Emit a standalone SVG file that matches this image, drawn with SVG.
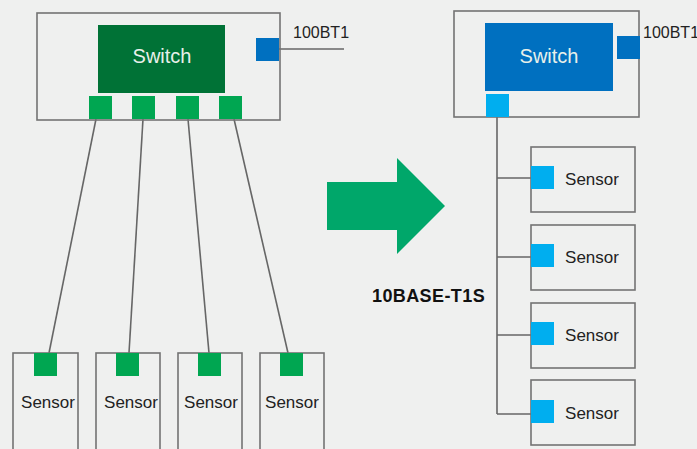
<svg xmlns="http://www.w3.org/2000/svg" width="697" height="449" viewBox="0 0 697 449">
<style>
.box{fill:none;stroke:#737373;stroke-width:1.6}
.ln{fill:none;stroke:#666;stroke-width:1.6}
.gp{fill:#00a651}
.cp{fill:#00aeef}
.bp{fill:#0070c0}
.t{font-family:"Liberation Sans",Arial,sans-serif;font-size:17px;fill:#222}
.sw{font-family:"Liberation Sans",Arial,sans-serif;font-size:20px;fill:#e8f0ea;text-anchor:middle}
.lbl{font-family:"Liberation Sans",Arial,sans-serif;font-size:16px;fill:#222}
</style>
<rect width="697" height="449" fill="#eff0ef"/>
<g id="connectors">
<line class="ln" x1="279" y1="49" x2="344" y2="49"/>
<line class="ln" x1="96" y1="119" x2="49" y2="353"/>
<line class="ln" x1="143" y1="119" x2="129" y2="353"/>
<line class="ln" x1="188" y1="119" x2="209" y2="353"/>
<line class="ln" x1="234" y1="119" x2="288" y2="353"/>
<path class="ln" d="M497 117 V414"/>
<line class="ln" x1="497" y1="178" x2="531" y2="178"/>
<line class="ln" x1="497" y1="257" x2="531" y2="257"/>
<line class="ln" x1="497" y1="335" x2="531" y2="335"/>
<line class="ln" x1="497" y1="414" x2="531" y2="414"/>
</g>
<g id="switch-left">
<rect class="box" x="37" y="13" width="243" height="107"/>
<rect x="98" y="25" width="127" height="68" fill="#007236"/>
<text class="sw" x="162" y="63">Switch</text>
<rect class="bp" x="256" y="38" width="23" height="23"/>
<rect class="gp" x="89" y="96" width="23" height="23"/>
<rect class="gp" x="132" y="96" width="23" height="23"/>
<rect class="gp" x="176" y="96" width="23" height="23"/>
<rect class="gp" x="219" y="96" width="23" height="23"/>
<text class="lbl" x="293" y="38">100BT1</text>
</g>
<g id="sensor-l1"><rect class="box" x="13" y="353" width="65" height="110"/><rect class="gp" x="34" y="353" width="23" height="23"/><text class="t" x="48" y="408" text-anchor="middle">Sensor</text></g>
<g id="sensor-l2"><rect class="box" x="96" y="353" width="64" height="110"/><rect class="gp" x="116" y="353" width="23" height="23"/><text class="t" x="131" y="408" text-anchor="middle">Sensor</text></g>
<g id="sensor-l3"><rect class="box" x="178" y="353" width="64" height="110"/><rect class="gp" x="198" y="353" width="23" height="23"/><text class="t" x="211" y="408" text-anchor="middle">Sensor</text></g>
<g id="sensor-l4"><rect class="box" x="260" y="353" width="64" height="110"/><rect class="gp" x="280" y="353" width="23" height="23"/><text class="t" x="292" y="408" text-anchor="middle">Sensor</text></g>
<g id="arrow">
<polygon points="327,182 397,182 397,158 445,206 397,254 397,230 327,230" fill="#00a76a"/>
<text x="372" y="302" font-family="Liberation Sans,Arial,sans-serif" font-size="18" font-weight="bold" fill="#111" letter-spacing="0.4">10BASE-T1S</text>
</g>
<g id="switch-right">
<rect class="box" x="454" y="11" width="185" height="106"/>
<rect class="bp" x="485" y="23" width="128" height="68"/>
<text class="sw" x="549" y="63">Switch</text>
<rect class="bp" x="617" y="36" width="23" height="23"/>
<rect class="cp" x="486" y="94" width="23" height="23"/>
<text class="lbl" x="643" y="38">100BT1</text>
</g>
<g id="sensor-r1"><rect class="box" x="531" y="147" width="104" height="65"/><rect class="cp" x="531" y="166" width="23" height="23"/><text class="t" x="592" y="185" text-anchor="middle">Sensor</text></g>
<g id="sensor-r2"><rect class="box" x="531" y="225" width="104" height="65"/><rect class="cp" x="531" y="244" width="23" height="23"/><text class="t" x="592" y="263" text-anchor="middle">Sensor</text></g>
<g id="sensor-r3"><rect class="box" x="531" y="303" width="104" height="65"/><rect class="cp" x="531" y="322" width="23" height="23"/><text class="t" x="592" y="341" text-anchor="middle">Sensor</text></g>
<g id="sensor-r4"><rect class="box" x="531" y="380" width="104" height="65"/><rect class="cp" x="531" y="400" width="23" height="23"/><text class="t" x="592" y="419" text-anchor="middle">Sensor</text></g>
</svg>
